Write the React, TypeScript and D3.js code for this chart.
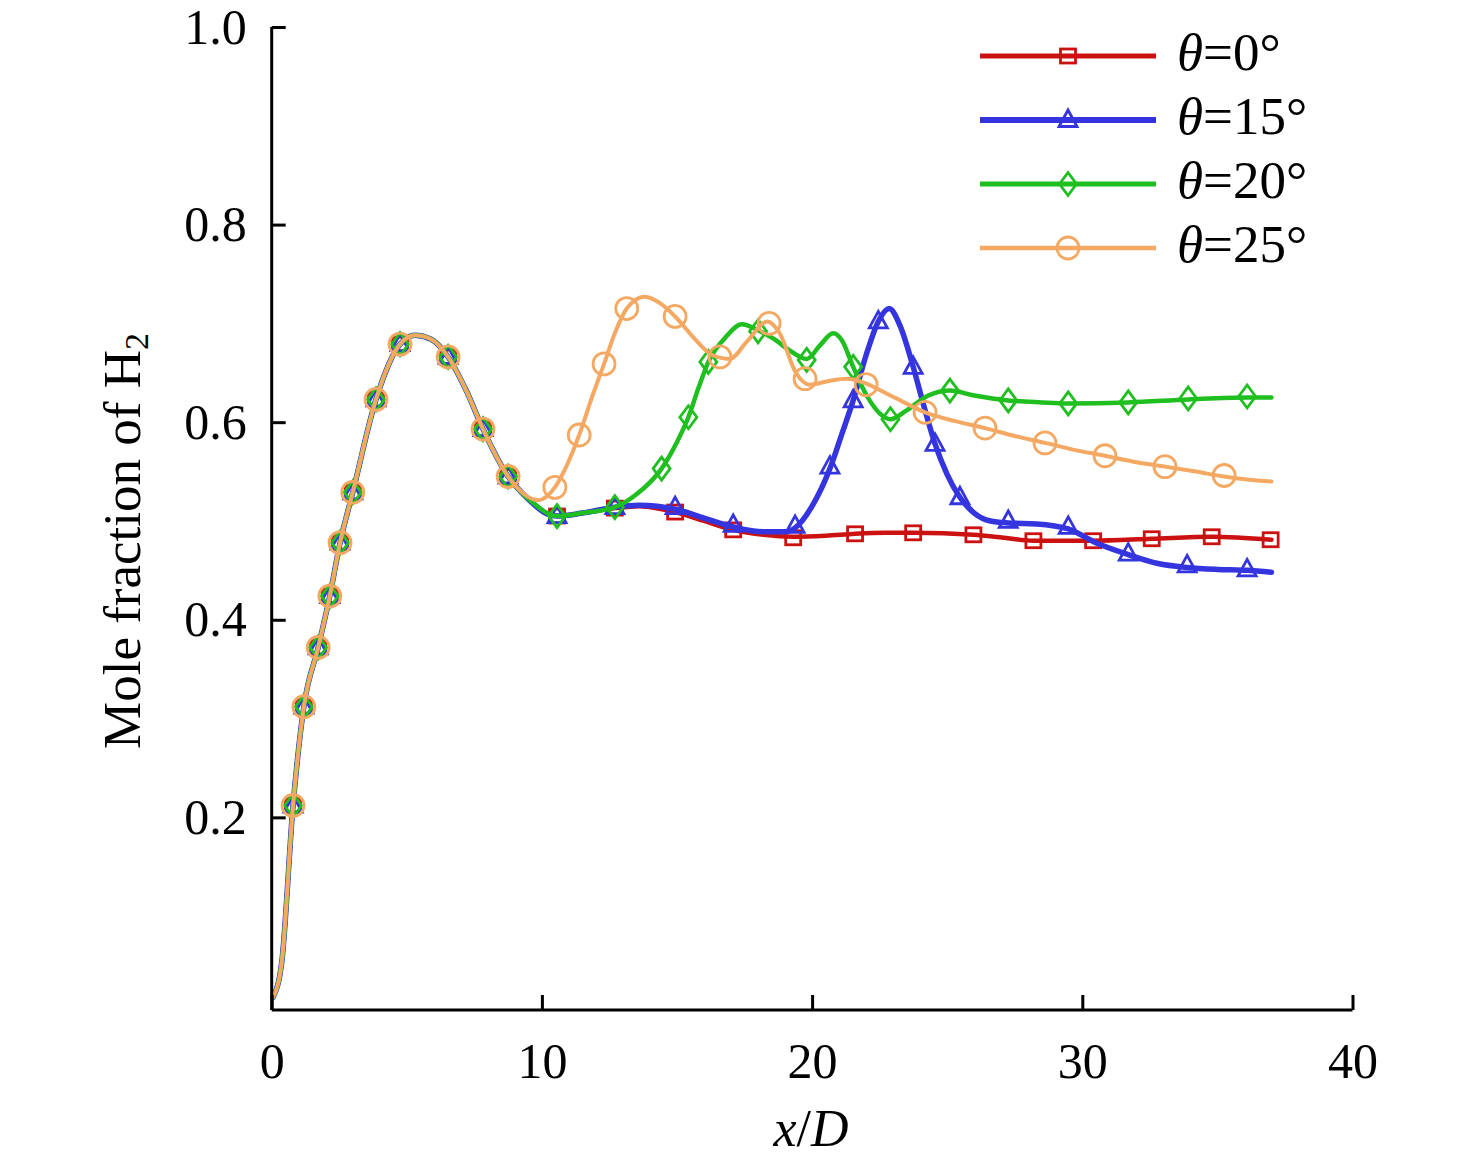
import React, { useRef, useEffect } from "react";
import * as d3 from "d3";

type Pt = [number, number];

// part of the curve that all four cases share (x/D, mole fraction)
const sharedLine: Pt[] = [
    [0.05, 0.018], [0.37, 0.053], [0.79, 0.212], [1.19, 0.312], [1.72, 0.372],
    [2.15, 0.424], [2.53, 0.478], [3.0, 0.529], [3.86, 0.623], [4.75, 0.679],
    [5.3, 0.688], [5.9, 0.684], [6.53, 0.666], [7.2, 0.632], [7.82, 0.593], [8.75, 0.545],
];
const sharedMarkers: Pt[] = [
    [0.79, 0.212], [1.19, 0.312], [1.72, 0.372], [2.15, 0.424], [2.53, 0.478],
    [3.0, 0.529], [3.86, 0.623], [4.75, 0.679], [6.53, 0.666], [7.82, 0.593], [8.75, 0.545],
];

const theta0Line: Pt[] = [
    [9.5, 0.522], [10.2, 0.507], [10.56, 0.505], [11.5, 0.508], [12.7, 0.513], [13.6, 0.515],
    [14.93, 0.509], [16.0, 0.5], [17.08, 0.491], [18.2, 0.486], [19.3, 0.484], [20.5, 0.485],
    [21.59, 0.487], [22.7, 0.488], [23.74, 0.488], [25.97, 0.486], [27.1, 0.483], [28.19, 0.48],
    [30.4, 0.48], [32.57, 0.482], [34.79, 0.484], [37.0, 0.481],
];
const theta0Markers: Pt[] = [
    [10.56, 0.505], [12.7, 0.513], [14.93, 0.509], [17.08, 0.491], [19.3, 0.483], [21.59, 0.487],
    [23.74, 0.488], [25.97, 0.486], [28.19, 0.48], [30.4, 0.48], [32.57, 0.482], [34.79, 0.484], [36.97, 0.481],
];

const theta15Line: Pt[] = [
    [9.5, 0.522], [10.2, 0.507], [10.56, 0.505], [11.5, 0.508], [12.7, 0.514], [13.6, 0.516],
    [14.93, 0.512], [16.0, 0.503], [17.08, 0.494], [18.2, 0.489], [19.0, 0.489], [19.37, 0.493],
    [20.0, 0.515], [20.66, 0.553], [21.1, 0.588], [21.52, 0.622], [22.0, 0.668], [22.45, 0.702],
    [22.85, 0.715], [23.25, 0.698], [23.74, 0.656], [24.15, 0.615], [24.55, 0.578], [25.0, 0.547],
    [25.47, 0.524], [26.0, 0.508], [26.6, 0.5], [27.26, 0.498], [28.3, 0.497], [29.48, 0.492],
    [30.5, 0.478], [31.7, 0.466], [32.8, 0.457], [33.88, 0.453], [35.0, 0.451], [36.1, 0.45], [37.0, 0.448],
];
const theta15Markers: Pt[] = [
    [10.56, 0.505], [12.7, 0.514], [14.93, 0.514], [17.08, 0.496], [19.37, 0.495], [20.66, 0.555],
    [21.52, 0.622], [22.45, 0.702], [23.74, 0.656], [24.55, 0.578], [25.47, 0.524], [27.26, 0.5],
    [29.48, 0.494], [31.7, 0.467], [33.88, 0.455], [36.1, 0.451],
];

const theta20Line: Pt[] = [
    [9.6, 0.52], [10.56, 0.505], [11.5, 0.508], [12.7, 0.514], [13.5, 0.527], [14.43, 0.553],
    [15.0, 0.58], [15.42, 0.605], [15.8, 0.635], [16.16, 0.661], [16.8, 0.686], [17.4, 0.699],
    [18.0, 0.693], [18.6, 0.684], [19.2, 0.672], [19.8, 0.664], [20.3, 0.678], [20.78, 0.69],
    [21.1, 0.683], [21.52, 0.656], [22.0, 0.628], [22.5, 0.609], [22.9, 0.603], [23.5, 0.612],
    [24.3, 0.627], [25.1, 0.632], [26.0, 0.627], [27.26, 0.622], [28.5, 0.62], [29.48, 0.619],
    [31.7, 0.62], [33.92, 0.623], [36.1, 0.625], [37.0, 0.625],
];
const theta20Markers: Pt[] = [
    [10.56, 0.505], [12.7, 0.514], [14.43, 0.553], [15.42, 0.605], [16.16, 0.661], [18.0, 0.692],
    [19.8, 0.663], [21.52, 0.656], [22.9, 0.603], [25.1, 0.632], [27.26, 0.622], [29.48, 0.619],
    [31.7, 0.62], [33.92, 0.624], [36.1, 0.626],
];

const theta25Line: Pt[] = [
    [9.3, 0.528], [9.86, 0.521], [10.48, 0.534], [10.9, 0.555], [11.38, 0.587], [11.85, 0.625],
    [12.3, 0.659], [12.7, 0.69], [13.14, 0.715], [13.8, 0.727], [14.4, 0.72], [14.93, 0.707],
    [15.7, 0.683], [16.3, 0.668], [16.95, 0.664], [17.6, 0.682], [18.35, 0.702], [18.8, 0.69],
    [19.4, 0.65], [19.9, 0.638], [20.66, 0.642], [21.3, 0.644], [21.8, 0.641], [22.9, 0.627],
    [24.18, 0.61], [25.3, 0.601], [26.4, 0.594], [27.5, 0.586], [28.62, 0.579], [29.7, 0.572],
    [30.84, 0.566], [31.9, 0.56], [33.06, 0.555], [34.2, 0.55], [35.25, 0.545], [36.1, 0.542], [37.0, 0.54],
];
const theta25Markers: Pt[] = [
    [10.48, 0.534], [11.38, 0.587], [12.3, 0.659], [13.14, 0.715], [14.93, 0.707], [16.59, 0.666],
    [18.41, 0.7], [19.74, 0.644], [22.0, 0.638], [24.18, 0.61], [26.4, 0.594], [28.62, 0.579],
    [30.84, 0.566], [33.06, 0.555], [35.25, 0.546],
];

const seriesNames = ["0", "15", "20", "25"];
const seriesColors = ["#cc1111", "#3535e0", "#1fbf1f", "#f4a862"];
const seriesWidths = [4.5, 5.5, 4.5, 4];
const seriesSymbols = ["square", "triangle", "diamond", "circle"];
const seriesLines = [theta0Line, theta15Line, theta20Line, theta25Line];
const seriesMarkers = [theta0Markers, theta15Markers, theta20Markers, theta25Markers];

const xTicks = [0, 10, 20, 30, 40];
const yTicks = [0.2, 0.4, 0.6, 0.8, 1.0];

const FONT = "'Liberation Serif', 'Times New Roman', serif";

function drawMarker(g: d3.Selection<SVGGElement, unknown, null, undefined>, kind: string, cx: number, cy: number, color: string) {
    const sw = 2.8;
    if (kind === "square") {
        g.append("rect").attr("x", cx - 7.5).attr("y", cy - 7).attr("width", 15).attr("height", 14)
            .attr("fill", "none").attr("stroke", color).attr("stroke-width", sw);
    } else if (kind === "triangle") {
        g.append("path").attr("d", `M${cx},${cy - 10}L${cx + 9},${cy + 6.5}L${cx - 9},${cy + 6.5}Z`)
            .attr("fill", "none").attr("stroke", color).attr("stroke-width", sw);
    } else if (kind === "diamond") {
        g.append("path").attr("d", `M${cx},${cy - 11.5}L${cx + 8.5},${cy}L${cx},${cy + 11.5}L${cx - 8.5},${cy}Z`)
            .attr("fill", "none").attr("stroke", color).attr("stroke-width", sw);
    } else {
        g.append("circle").attr("cx", cx).attr("cy", cy).attr("r", 11)
            .attr("fill", "none").attr("stroke", color).attr("stroke-width", sw);
    }
}

const App: React.FC = () => {
    const svgRef = useRef<SVGSVGElement | null>(null);

    useEffect(() => {
        const width = 1476;
        const height = 1165;
        const svg = d3.select(svgRef.current).attr("width", width).attr("height", height);
        svg.selectAll("*").remove();

        const x = d3.scaleLinear().domain([0, 40]).range([271.7, 1352.5]);
        const y = d3.scaleLinear().domain([0.005, 1]).range([1010, 27]);

        const line = d3.line<Pt>().x((d) => x(d[0])).y((d) => y(d[1])).curve(d3.curveMonotoneX);

        // series, red first so orange ends up on top
        seriesNames.forEach((_, i) => {
            const pts = sharedLine.concat(seriesLines[i]);
            const g = svg.append("g");
            g.append("path").attr("d", line(pts)).attr("fill", "none")
                .attr("stroke", seriesColors[i]).attr("stroke-width", seriesWidths[i])
                .attr("stroke-linejoin", "round").attr("stroke-linecap", "round");
            sharedMarkers.concat(seriesMarkers[i]).forEach((p) => {
                drawMarker(g, seriesSymbols[i], x(p[0]), y(p[1]), seriesColors[i]);
            });
        });

        // axes
        const xAxis = d3.axisBottom(x).tickValues(xTicks).tickSize(-15).tickSizeOuter(0).tickPadding(32);
        const gx = svg.append("g").attr("transform", "translate(0,1010)").call(xAxis);
        const yAxis = d3.axisLeft(y).tickValues(yTicks).tickSize(-14).tickSizeOuter(0).tickPadding(25)
            .tickFormat(d3.format(".1f"));
        const gy = svg.append("g").attr("transform", "translate(271.7,0)").call(yAxis);
        gx.select(".domain").attr("d", `M${x(0)},0H${x(40)}`);
        gy.select(".domain").attr("d", `M0,${y(0.005)}V${y(1)}`);
        [gx, gy].forEach((g) => {
            g.selectAll(".domain").attr("stroke", "#000").attr("stroke-width", 3);
            g.selectAll(".tick line").attr("stroke", "#000").attr("stroke-width", 3);
            g.selectAll(".tick text").attr("fill", "#000").style("font-family", FONT).style("font-size", "50px");
        });

        // axis titles
        const xt = svg.append("text").attr("x", 811).attr("y", 1146).attr("text-anchor", "middle")
            .style("font-family", FONT).style("font-size", "52px");
        xt.append("tspan").style("font-style", "italic").text("x");
        xt.append("tspan").text("/");
        xt.append("tspan").style("font-style", "italic").text("D");

        const yt = svg.append("text").attr("transform", "translate(140,541) rotate(-90)").attr("text-anchor", "middle")
            .style("font-family", FONT).style("font-size", "53px");
        yt.append("tspan").text("Mole fraction of H");
        yt.append("tspan").attr("dy", 8).style("font-size", "34px").text("2");

        // legend
        seriesNames.forEach((name, i) => {
            const ly = 56 + i * 64;
            const g = svg.append("g");
            g.append("line").attr("x1", 980).attr("x2", 1156).attr("y1", ly).attr("y2", ly)
                .attr("stroke", seriesColors[i]).attr("stroke-width", seriesWidths[i] + 0.5);
            drawMarker(g, seriesSymbols[i], 1068, ly, seriesColors[i]);
            const t = g.append("text").attr("x", 1177).attr("y", ly + 14)
                .style("font-family", FONT).style("font-size", "53px");
            t.append("tspan").style("font-style", "italic").text("θ");
            t.append("tspan").text(`=${name}°`);
        });
    }, []);

    return <svg ref={svgRef} style={{ position: "absolute", left: 0, top: 0, background: "#fff" }} />;
};

export default App;
